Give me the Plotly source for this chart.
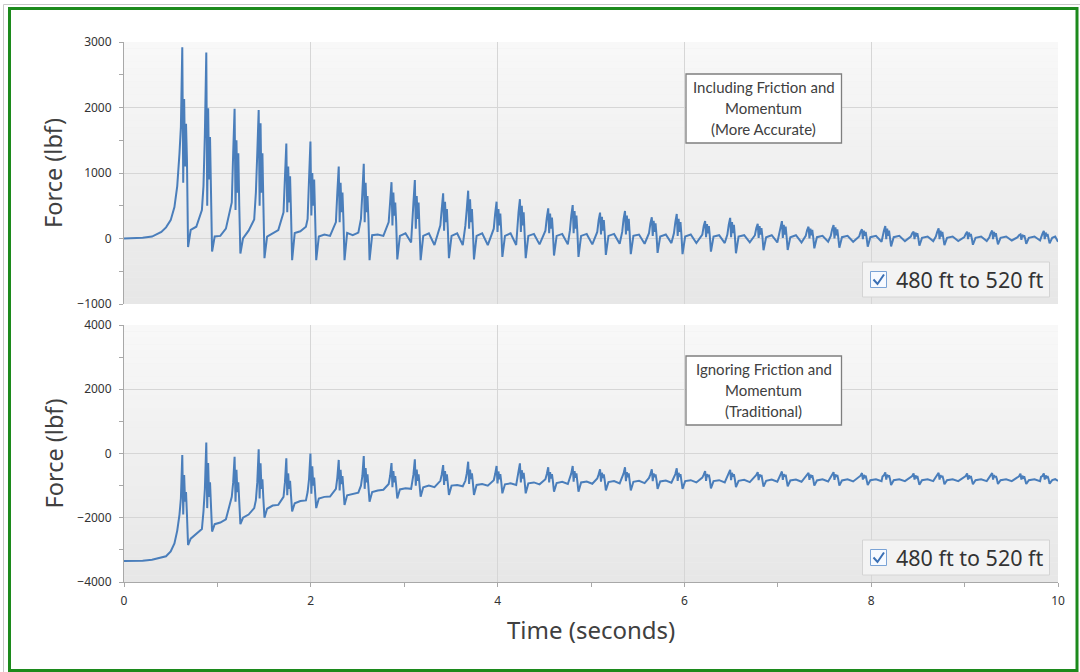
import plotly.graph_objects as go

# ---------------------------------------------------------------------------
# Force history on the 480 ft - 520 ft pipe segment (lbf) vs. simulation time (s)
# Both runs share the same output time steps.
# ---------------------------------------------------------------------------
time_s = [
    0.000, 0.200, 0.300, 0.400, 0.450, 0.500, 0.540, 0.570,
    0.594, 0.609, 0.624, 0.634, 0.644, 0.654, 0.664, 0.674, 0.686, 0.714, 0.774, 0.834,
    0.851, 0.866, 0.881, 0.891, 0.901, 0.911, 0.921, 0.931, 0.943, 0.971, 1.031, 1.091,
    1.154, 1.169, 1.184, 1.194, 1.204, 1.214, 1.224, 1.234, 1.246, 1.274, 1.334, 1.394,
    1.412, 1.427, 1.442, 1.452, 1.462, 1.472, 1.482, 1.492, 1.504, 1.532, 1.592, 1.652,
    1.708, 1.723, 1.738, 1.748, 1.758, 1.768, 1.778, 1.788, 1.800, 1.828, 1.888, 1.948,
    1.966, 1.981, 1.996, 2.006, 2.016, 2.026, 2.036, 2.046, 2.058, 2.086, 2.146, 2.206,
    2.269, 2.284, 2.299, 2.309, 2.319, 2.329, 2.339, 2.349, 2.361, 2.389, 2.449, 2.509,
    2.537, 2.552, 2.567, 2.577, 2.587, 2.597, 2.607, 2.617, 2.629, 2.657, 2.717, 2.777,
    2.834, 2.849, 2.864, 2.874, 2.884, 2.894, 2.904, 2.914, 2.926, 2.954, 3.014, 3.074,
    3.084, 3.099, 3.114, 3.124, 3.134, 3.144, 3.154, 3.164, 3.176, 3.204, 3.264, 3.324,
    3.387, 3.402, 3.417, 3.427, 3.437, 3.447, 3.457, 3.467, 3.479, 3.507, 3.567, 3.627,
    3.655, 3.670, 3.685, 3.695, 3.705, 3.715, 3.725, 3.735, 3.747, 3.775, 3.835, 3.895,
    3.959, 3.974, 3.989, 3.999, 4.009, 4.019, 4.029, 4.039, 4.051, 4.079, 4.139, 4.199,
    4.209, 4.224, 4.239, 4.249, 4.259, 4.269, 4.279, 4.289, 4.301, 4.329, 4.389, 4.449,
    4.512, 4.527, 4.542, 4.552, 4.562, 4.572, 4.582, 4.592, 4.604, 4.632, 4.692, 4.752,
    4.774, 4.789, 4.804, 4.814, 4.824, 4.834, 4.844, 4.854, 4.866, 4.894, 4.954, 5.014,
    5.067, 5.082, 5.097, 5.107, 5.117, 5.127, 5.137, 5.147, 5.159, 5.187, 5.247, 5.307,
    5.334, 5.349, 5.364, 5.374, 5.384, 5.394, 5.404, 5.414, 5.426, 5.454, 5.514, 5.574,
    5.621, 5.636, 5.651, 5.661, 5.671, 5.681, 5.691, 5.701, 5.713, 5.741, 5.801, 5.861,
    5.888, 5.903, 5.918, 5.928, 5.938, 5.948, 5.958, 5.968, 5.980, 6.008, 6.068, 6.128,
    6.192, 6.207, 6.222, 6.232, 6.242, 6.252, 6.262, 6.272, 6.284, 6.312, 6.372, 6.432,
    6.460, 6.475, 6.490, 6.500, 6.510, 6.520, 6.530, 6.540, 6.552, 6.580, 6.640, 6.700,
    6.755, 6.770, 6.785, 6.795, 6.805, 6.815, 6.825, 6.835, 6.847, 6.875, 6.935, 6.995,
    7.014, 7.029, 7.044, 7.054, 7.064, 7.074, 7.084, 7.094, 7.106, 7.134, 7.194, 7.254,
    7.299, 7.314, 7.329, 7.339, 7.349, 7.359, 7.369, 7.379, 7.391, 7.419, 7.479, 7.539,
    7.567, 7.582, 7.597, 7.607, 7.617, 7.627, 7.637, 7.647, 7.659, 7.687, 7.747, 7.807,
    7.871, 7.886, 7.901, 7.911, 7.921, 7.931, 7.941, 7.951, 7.963, 7.991, 8.051, 8.111,
    8.121, 8.136, 8.151, 8.161, 8.171, 8.181, 8.191, 8.201, 8.213, 8.241, 8.301, 8.361,
    8.424, 8.439, 8.454, 8.464, 8.474, 8.484, 8.494, 8.504, 8.516, 8.544, 8.604, 8.664,
    8.692, 8.707, 8.722, 8.732, 8.742, 8.752, 8.762, 8.772, 8.784, 8.812, 8.872, 8.932,
    8.997, 9.012, 9.027, 9.037, 9.047, 9.057, 9.067, 9.077, 9.089, 9.117, 9.177, 9.237,
    9.265, 9.280, 9.295, 9.305, 9.315, 9.325, 9.335, 9.345, 9.357, 9.385, 9.445, 9.505,
    9.568, 9.583, 9.598, 9.608, 9.618, 9.628, 9.638, 9.648, 9.660, 9.688, 9.748, 9.808,
    9.818, 9.833, 9.848, 9.858, 9.868, 9.878, 9.888, 9.898, 9.910, 9.938, 9.970, 10.000,
]

# Including friction and momentum (more accurate)
force_friction_lbf = [
    0, 10, 30, 100, 170, 280, 480, 800,
    1300, 1700, 2920, 850, 2130, 1100, 1750, 1200, -130, 130, 180, 435,
    800, 1600, 2840, 500, 1990, 900, 1550, 330, -200, 30, 40, 150,
    550, 1300, 1980, 435, 1500, 700, 1300, 500, -230, 0, 120, 290,
    700, 1300, 1960, 500, 1760, 700, 1300, 550, -300, 30, 85, 130,
    400, 900, 1450, 400, 1100, 550, 950, 400, -330, 85, 110, 180,
    300, 900, 1480, 350, 1000, 500, 900, 350, -330, 30, 60, 40,
    250, 700, 1100, 250, 850, 400, 700, 300, -330, 85, 50, 90,
    300, 700, 1140, 250, 850, 400, 650, 300, -330, 50, 60, 40,
    250, 550, 860, 200, 700, 350, 550, 250, -320, 40, 80, -60,
    250, 550, 893, 150, 650, 300, 550, 200, -330, 40, 80, -100,
    200, 450, 690, 120, 560, 250, 450, 150, -300, 40, 80, -100,
    200, 450, 730, 150, 600, 250, 450, 150, -320, 40, 80, -100,
    150, 380, 562, 100, 450, 200, 380, 120, -280, 40, 80, -100,
    150, 400, 600, 100, 500, 200, 400, 120, -300, 40, 70, -90,
    120, 320, 460, 80, 380, 150, 320, 100, -260, 40, 70, -90,
    120, 350, 510, 80, 420, 150, 350, 100, -280, 40, 70, -90,
    100, 280, 395, 60, 330, 120, 280, 80, -250, 40, 70, -80,
    100, 300, 420, 60, 350, 120, 300, 80, -240, 40, 60, -80,
    80, 230, 323, 40, 270, 100, 230, 60, -220, 30, 60, -70,
    80, 250, 375, 40, 300, 100, 250, 60, -240, 30, 60, -70,
    60, 190, 265, 20, 220, 80, 190, 40, -200, 30, 50, -70,
    60, 210, 315, 20, 250, 80, 210, 40, -225, 30, 50, -60,
    50, 160, 225, 10, 190, 60, 160, 30, -180, 20, 50, -60,
    50, 180, 265, 10, 210, 60, 180, 30, -175, 20, 50, -60,
    40, 130, 180, 0, 150, 50, 130, 20, -150, 20, 40, -50,
    40, 140, 206, 0, 170, 50, 140, 20, -140, 20, 40, -50,
    30, 100, 140, -10, 120, 40, 100, 10, -125, 20, 40, -50,
    30, 120, 190, -10, 150, 40, 120, 10, -120, 20, 40, -40,
    30, 80, 104, -10, 90, 30, 80, 10, -110, 10, 30, -40,
    30, 100, 155, -10, 120, 30, 100, 10, -100, 10, 30, -40,
    20, 70, 104, -10, 90, 30, 70, 0, -95, 10, 30, -40,
    20, 80, 122, -10, 100, 30, 80, 0, -90, 10, 30, -30,
    20, 50, 64, -20, 60, 20, 50, 0, -80, 10, 30, -30,
    20, 70, 117, -10, 90, 30, 70, 0, -75, 10, 30, -50,
]

# Ignoring friction and momentum (traditional)
force_traditional_lbf = [
    -3350, -3340, -3310, -3250, -3200, -3050, -2800, -2400,
    -1900, -1400, -50, -1900, -670, -1500, -1200, -1900, -2850, -2650, -2500, -2350,
    -1800, -1100, 340, -1700, -300, -1350, -900, -1700, -2430, -2200, -2150, -2050,
    -1350, -900, -100, -1500, -510, -1200, -900, -1500, -2200, -2000, -1900, -1700,
    -1450, -900, 130, -1400, -305, -1100, -800, -1400, -2000, -1720, -1620, -1600,
    -1350, -900, -150, -1300, -620, -1100, -850, -1300, -1800, -1550, -1480, -1460,
    -1200, -800, 0, -1250, -400, -1000, -750, -1200, -1700, -1400, -1350, -1340,
    -1100, -750, -200, -1150, -510, -950, -700, -1100, -1600, -1300, -1250, -1220,
    -1000, -700, -80, -1100, -450, -900, -650, -1050, -1500, -1200, -1150, -1130,
    -950, -700, -300, -1050, -550, -900, -700, -1000, -1400, -1120, -1085, -1100,
    -900, -650, -180, -1000, -500, -850, -650, -950, -1345, -1050, -1000, -1050,
    -850, -650, -360, -980, -550, -850, -650, -930, -1290, -1000, -980, -1020,
    -850, -620, -255, -950, -500, -800, -620, -900, -1290, -980, -950, -1000,
    -830, -640, -390, -930, -560, -800, -640, -880, -1240, -960, -930, -980,
    -800, -600, -305, -900, -520, -780, -600, -860, -1240, -930, -900, -960,
    -800, -640, -430, -900, -580, -780, -640, -860, -1190, -920, -880, -950,
    -780, -620, -390, -880, -550, -760, -620, -840, -1190, -900, -870, -940,
    -780, -650, -490, -880, -600, -760, -650, -840, -1150, -890, -860, -930,
    -760, -620, -430, -860, -580, -740, -620, -820, -1150, -880, -850, -920,
    -760, -650, -490, -860, -620, -740, -650, -820, -1100, -870, -840, -910,
    -750, -640, -460, -850, -600, -730, -640, -810, -1100, -860, -830, -900,
    -750, -660, -545, -850, -640, -730, -660, -810, -1085, -860, -830, -900,
    -720, -640, -510, -830, -600, -720, -640, -800, -1050, -850, -820, -890,
    -720, -670, -580, -830, -650, -720, -670, -800, -1030, -850, -810, -880,
    -720, -660, -560, -820, -640, -720, -660, -800, -1020, -840, -810, -880,
    -720, -680, -600, -820, -660, -720, -680, -800, -1000, -840, -800, -870,
    -720, -670, -580, -820, -650, -720, -670, -800, -1000, -840, -800, -870,
    -720, -690, -610, -810, -670, -730, -690, -790, -980, -830, -800, -860,
    -720, -680, -590, -810, -660, -730, -680, -790, -980, -830, -800, -860,
    -720, -700, -620, -810, -680, -740, -700, -790, -970, -830, -800, -860,
    -720, -690, -600, -810, -670, -740, -690, -790, -960, -830, -800, -860,
    -730, -700, -620, -810, -680, -740, -700, -790, -960, -830, -800, -860,
    -730, -700, -610, -810, -670, -740, -700, -790, -950, -830, -800, -860,
    -730, -710, -630, -810, -690, -750, -710, -790, -950, -830, -800, -860,
    -730, -700, -620, -810, -680, -740, -700, -790, -940, -830, -800, -850,
]

panel_notes = [
    ["Including Friction and", "Momentum", "(More Accurate)"],
    ["Ignoring Friction and", "Momentum", "(Traditional)"],
]
series_label = "480 ft to 520 ft"
y_title = "Force (lbf)"
x_title = "Time (seconds)"

# ---------------------------------------------------------------------------
W, H = 1080, 672
LINE_BLUE = "#4a7ebb"
AXIS_GREY = "#a8a8a8"
GRID_GREY = "#d6d6d6"
TEXT_GREY = "#404040"


def fx(px):
    return px / W


def fy(py):
    return 1 - py / H


X_LEFT, X_RIGHT = 124, 1058
PANELS = [
    dict(top=42, bottom=304, yr=[-1000, 3000], dt=1000, minor=500),
    dict(top=325, bottom=582, yr=[-4000, 4000], dt=2000, minor=1000),
]

fig = go.Figure()
fig.add_trace(go.Scatter(x=time_s, y=force_friction_lbf, xaxis="x", yaxis="y",
                         mode="lines", line=dict(color=LINE_BLUE, width=2),
                         name=series_label, showlegend=False))
fig.add_trace(go.Scatter(x=time_s, y=force_traditional_lbf, xaxis="x2", yaxis="y2",
                         mode="lines", line=dict(color=LINE_BLUE, width=2),
                         name=series_label, showlegend=False))

tick_font = dict(family="Noto Sans", size=12, color="#333333")
layout_axes = {}
for i, p in enumerate(PANELS):
    sx = "" if i == 0 else str(i + 1)
    last = i == len(PANELS) - 1
    layout_axes["xaxis" + sx] = dict(
        domain=[fx(X_LEFT), fx(X_RIGHT)], anchor="y" + sx, range=[0, 10],
        tickmode="linear", tick0=0, dtick=2,
        showgrid=True, gridcolor=GRID_GREY, gridwidth=1, zeroline=False,
        showline=last, linecolor=AXIS_GREY, linewidth=1,
        ticks="outside" if last else "", ticklen=4, tickcolor=AXIS_GREY,
        showticklabels=last, tickfont=tick_font, ticklabelstandoff=4,
        minor=dict(dtick=1, tick0=0, ticks="outside" if last else "", ticklen=4,
                   tickcolor=AXIS_GREY, showgrid=False),
        automargin=False, fixedrange=True,
    )
    layout_axes["yaxis" + sx] = dict(
        domain=[fy(p["bottom"]), fy(p["top"])], anchor="x" + sx, range=p["yr"],
        tickmode="linear", tick0=0, dtick=p["dt"],
        showgrid=True, gridcolor=GRID_GREY, gridwidth=1, zeroline=False,
        showline=True, linecolor=AXIS_GREY, linewidth=1,
        ticks="outside", ticklen=4, tickcolor=AXIS_GREY,
        tickfont=tick_font, ticklabelstandoff=5,
        minor=dict(dtick=p["minor"], tick0=0, ticks="outside", ticklen=4,
                   tickcolor=AXIS_GREY, showgrid=False),
        automargin=False, fixedrange=True,
    )

shapes = []
annotations = []

# soft vertical shading of each plotting area
N_BANDS = 40
for i, p in enumerate(PANELS):
    sx = "" if i == 0 else str(i + 1)
    for b in range(N_BANDS):
        f = b / (N_BANDS - 1)
        g = round(231 + (248 - 231) * f)
        shapes.append(dict(type="rect", xref="x" + sx + " domain", yref="y" + sx + " domain",
                           x0=0, x1=1, y0=b / N_BANDS, y1=(b + 1) / N_BANDS,
                           fillcolor=f"rgb({g},{g},{g})", line=dict(width=0), layer="below"))

# note boxes and check-box legends
for i, p in enumerate(PANELS):
    off = p["top"] - PANELS[0]["top"]
    box_top, box_bot = 74 + off - (1 if i else 0), 143 + off - (1 if i else 0)
    shapes.append(dict(type="rect", xref="paper", yref="paper",
                       x0=fx(686), x1=fx(841.5), y0=fy(box_bot), y1=fy(box_top),
                       fillcolor="white", line=dict(color="#7f7f7f", width=1.3)))
    for k, txt in enumerate(panel_notes[i]):
        annotations.append(dict(xref="paper", yref="paper", x=fx(763.5),
                                y=fy(box_top + 13 + 21 * k), text=txt, showarrow=False,
                                xanchor="center", yanchor="middle",
                                font=dict(family="Lato", size=15, color=TEXT_GREY)))

    lg_top, lg_bot = p["bottom"] - 42, p["bottom"] - 7
    shapes.append(dict(type="rect", xref="paper", yref="paper",
                       x0=fx(862.5), x1=fx(1049.5), y0=fy(lg_bot), y1=fy(lg_top),
                       fillcolor="#f3f3f3", line=dict(color="#d4d4d4", width=1)))
    cy = (lg_top + lg_bot) / 2
    shapes.append(dict(type="rect", xref="paper", yref="paper",
                       x0=fx(870.5), x1=fx(886.5), y0=fy(cy + 8), y1=fy(cy - 8),
                       fillcolor="#f7faff", line=dict(color="#7aa3d6", width=1)))
    path = (f"M {fx(873.5)},{fy(cy)} L {fx(877.5)},{fy(cy + 4.5)} "
            f"L {fx(884)},{fy(cy - 5)}")
    shapes.append(dict(type="path", xref="paper", yref="paper", path=path,
                       line=dict(color="#3a6fb4", width=2)))
    annotations.append(dict(xref="paper", yref="paper", x=fx(894), y=fy(cy),
                            text=series_label, showarrow=False,
                            xanchor="left", yanchor="middle",
                            font=dict(family="Noto Sans", size=21.5, color="#333333")))

    annotations.append(dict(xref="paper", yref="paper", x=fx(53),
                            y=fy((p["top"] + p["bottom"]) / 2), text=y_title,
                            textangle=-90, showarrow=False,
                            xanchor="center", yanchor="middle",
                            font=dict(family="Noto Sans", size=23.5, color=TEXT_GREY)))

annotations.append(dict(xref="paper", yref="paper", x=fx((X_LEFT + X_RIGHT) / 2), y=fy(629),
                        text=x_title, showarrow=False, xanchor="center", yanchor="middle",
                        font=dict(family="Noto Sans", size=24, color=TEXT_GREY)))

# outer frame
shapes.append(dict(type="rect", xref="paper", yref="paper",
                   x0=fx(3.5), x1=fx(1090), y0=fy(690), y1=fy(4.5),
                   line=dict(color="#c8c8c8", width=1), fillcolor="rgba(0,0,0,0)"))
shapes.append(dict(type="rect", xref="paper", yref="paper",
                   x0=fx(9.5), x1=fx(1077), y0=fy(670.5), y1=fy(8.5),
                   line=dict(color="#1c8a1c", width=3), fillcolor="rgba(0,0,0,0)"))

fig.update_layout(
    width=W, height=H, autosize=False,
    margin=dict(l=0, r=0, t=0, b=0),
    paper_bgcolor="white", plot_bgcolor="#efefef",
    shapes=shapes, annotations=annotations,
    showlegend=False, hovermode=False,
    **layout_axes,
)

fig.write_html("out.html", config=dict(displayModeBar=False))
